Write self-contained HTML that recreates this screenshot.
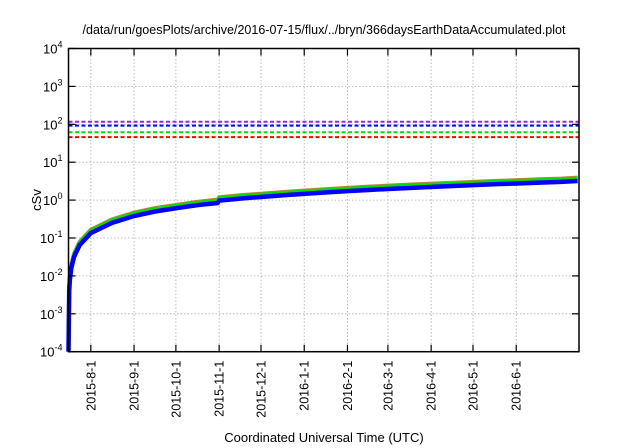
<!DOCTYPE html>
<html><head><meta charset="utf-8"><style>
body{margin:0;background:#fff}
svg{display:block;font-family:"Liberation Sans",sans-serif}
</style></head><body>
<svg id="chart" width="640" height="448" viewBox="0 0 640 448">
<text x="324" y="34" font-size="12.5" text-anchor="middle">/data/run/goesPlots/archive/2016-07-15/flux/../bryn/366daysEarthDataAccumulated.plot</text>
<text transform="translate(41,200) rotate(-90)" font-size="13" text-anchor="middle">cSv</text>
<text x="324" y="442" font-size="13" text-anchor="middle">Coordinated Universal Time (UTC)</text>
<g id="grid"></g>
<g id="marks"></g>
<rect x="68.5" y="48.5" width="510.5" height="303.2" fill="none" stroke="#000" stroke-width="1.5"/>
<g id="axes"></g>
</svg>
<script>
const yTickExps=[-4,-3,-2,-1,0,1,2,3,4];
const xTickLabels=["2015-8-1","2015-9-1","2015-10-1","2015-11-1","2015-12-1","2016-1-1","2016-2-1","2016-3-1","2016-4-1","2016-5-1","2016-6-1"];
const xTickDays=[16,47,77,108,138,169,200,229,260,290,321];
const thresholdValues=[117,92,61.5,46];
const thresholdNames=["purple","blue","green","red"];
const days=[0,0.5,1,2,4,8,16,31,47,62,78,93,107,108,124,139,154,170,185,200,215,231,246,261,276,292,307,322,338,353,365];
const blueDose=[0.0001,0.004,0.008,0.016,0.032,0.065,0.135,0.25,0.38,0.5,0.62,0.74,0.84,0.97,1.1,1.22,1.34,1.47,1.6,1.72,1.85,1.98,2.1,2.23,2.36,2.5,2.63,2.75,2.9,3.03,3.2];
const greenDose=[0.0001,0.0046,0.0092,0.018,0.037,0.075,0.155,0.29,0.44,0.58,0.71,0.85,0.97,1.12,1.27,1.4,1.54,1.69,1.84,1.98,2.13,2.28,2.42,2.56,2.71,2.88,3.02,3.16,3.34,3.48,3.68];

const L=68.5,R=579,T=48.5,B=351.7,NS="http://www.w3.org/2000/svg";
const X=d=>L+(R-L)*d/366;
const Y=v=>B-(Math.log10(v)+4)*(B-T)/8;
function el(tag,attrs,parent){const e=document.createElementNS(NS,tag);for(const k in attrs)e.setAttribute(k,attrs[k]);parent.appendChild(e);return e;}
const grid=document.getElementById('grid'),axes=document.getElementById('axes'),marks=document.getElementById('marks');
yTickExps.forEach(p=>{
  const y=Y(Math.pow(10,p));
  if(p>-4&&p<4){const g=el('line',{x1:L,x2:R,y1:y,y2:y,stroke:'#aaa','stroke-dasharray':'1.5,2','stroke-width':0.8},grid);
  
  }
  const t1=el('line',{x1:L,x2:L+7,y1:y,y2:y,stroke:'#000','stroke-width':1.2},axes);
  
  
  const t2=el('line',{x1:R-7,x2:R,y1:y,y2:y,stroke:'#000','stroke-width':1.2},axes);
  
  
  const tx=el('text',{x:L-6,y:y+5,'font-size':13,'text-anchor':'end'},axes);
  
  
  tx.innerHTML='10<tspan dy="-6" font-size="9">'+p+'</tspan>';
});
xTickDays.forEach((d,i)=>{
  const x=X(d);
  const g=el('line',{x1:x,x2:x,y1:T,y2:B,stroke:'#aaa','stroke-dasharray':'1.5,2','stroke-width':0.8},grid);
  
  
  const t=el('line',{x1:x,x2:x,y1:B-7,y2:B,stroke:'#000','stroke-width':1.2},axes);
  
  
  const t2=el('line',{x1:x,x2:x,y1:T,y2:T+7,stroke:'#000','stroke-width':1.2},axes);
  
  
  const tx=el('text',{transform:`translate(${x+4.5},${B+9}) rotate(-90)`,'font-size':12.5,'text-anchor':'end'},axes);
  
  
  tx.textContent=xTickLabels[i];
});
const tcol={purple:'#a020f0',blue:'#0000ff',green:'#00e000',red:'#ff0000'};
thresholdValues.forEach((v,i)=>{
  const y=Y(v);
  const l=el('line',{x1:L,x2:R,y1:y,y2:y,stroke:tcol[thresholdNames[i]],'stroke-width':2,'stroke-dasharray':'4,2.5'},marks);
  
  
});
function path(vals){return days.map((d,i)=>(i?'L':'M')+X(d).toFixed(2)+','+Y(vals[i]).toFixed(2)).join(' ');}
const o=el('path',{d:path(greenDose),fill:'none',stroke:'#c08040','stroke-width':4,transform:'translate(0,-1)'},marks);


const g=el('path',{d:path(greenDose),fill:'none',stroke:'#00dd00','stroke-width':4},marks);


const b=el('path',{d:path(blueDose),fill:'none',stroke:'#0000ff','stroke-width':4.5},marks);


</script>
</body></html>
